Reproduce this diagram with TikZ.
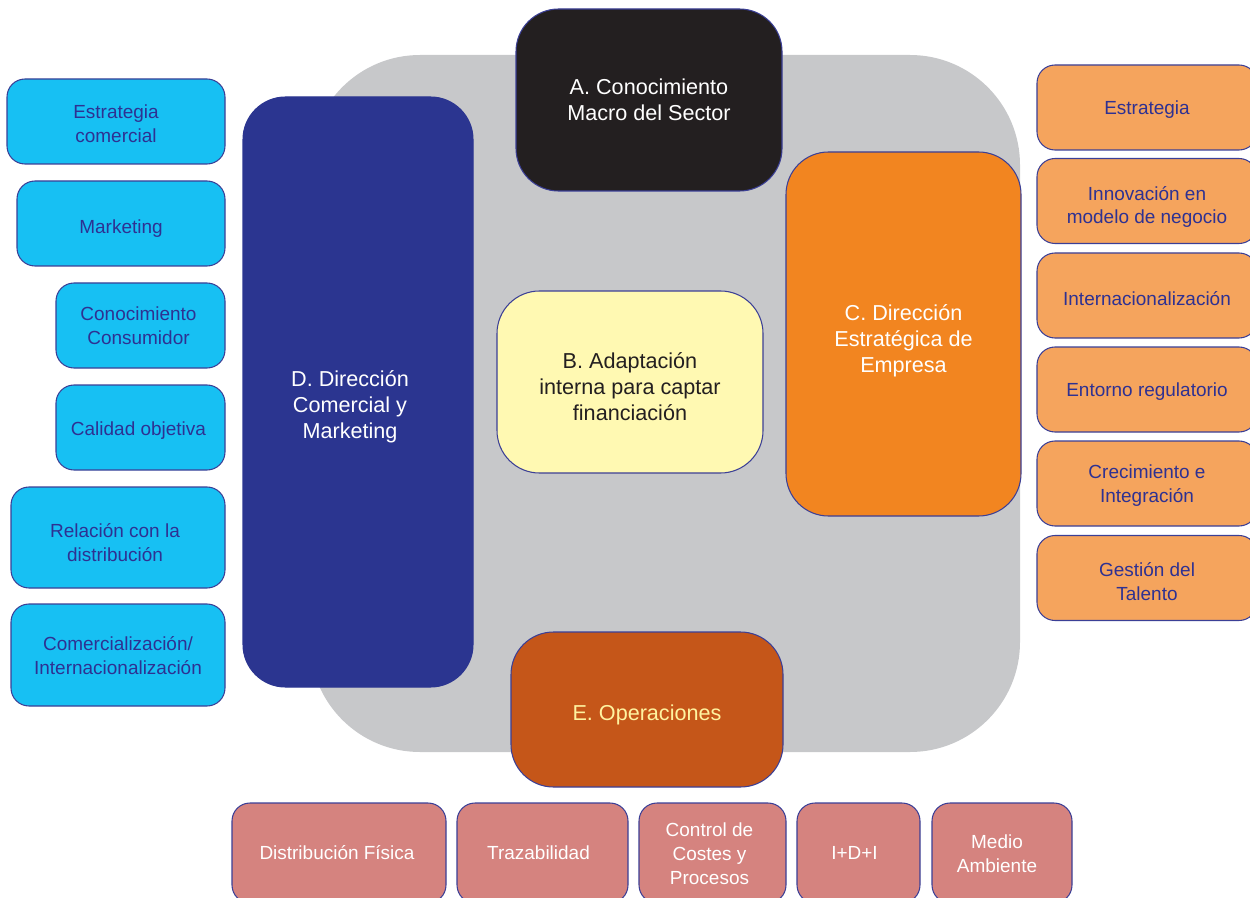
\documentclass[tikz,border=0pt]{standalone}
\usepackage{fontspec}
\setmainfont{Liberation Sans}
\definecolor{coregray}{HTML}{C7C8CA}
\definecolor{edge}{HTML}{3B3F96}
\definecolor{navytext}{HTML}{2E3192}
\definecolor{navyfill}{HTML}{2B3590}
\definecolor{blackfill}{HTML}{231F20}
\definecolor{yellowfill}{HTML}{FFF9B2}
\definecolor{orangefill}{HTML}{F28520}
\definecolor{rustfill}{HTML}{C55619}
\definecolor{rusttext}{HTML}{FFF3A0}
\definecolor{cyanfill}{HTML}{17C0F3}
\definecolor{peachfill}{HTML}{F5A45D}
\definecolor{pinkfill}{HTML}{D5837F}
\begin{document}
\begin{tikzpicture}[x=0.02cm,y=-0.02cm,
  bw/.style={minimum width=#1*0.02cm},
  bh/.style={minimum height=#1*0.02cm},
  dy/.style={yshift=-#1*0.02cm},
  dx/.style={xshift=#1*0.02cm},
  box/.style={draw=edge,line width=0.6pt,inner sep=0pt,outer sep=0pt},
  smalltext/.style={font=\fontsize{10.8pt}{13.6pt}\selectfont,align=center},
  bigtext/.style={font=\fontsize{12.3pt}{14.8pt}\selectfont,align=center},
  sidebox/.style={box,rounded corners=0.36cm},
  leftbox/.style={sidebox,fill=cyanfill},
  rightbox/.style={sidebox,fill=peachfill,bw=220,bh=85},
  lowbox/.style={sidebox,fill=pinkfill,bh=100},
  mainbox/.style={box,rounded corners=0.85cm},
  navylabel/.style={smalltext,text=navytext},
  whitelabel/.style={smalltext,text=white}]
\useasboundingbox (0,0) rectangle (1250,898);

% grey core behind the five main areas
\node[fill=coregray,rounded corners=2.2cm,bw=710,bh=697,inner sep=0pt] (core) at (665,403.5) {};

% main areas
\node[mainbox,fill=blackfill,bw=266,bh=182,
  label={[bigtext,text=white]center:{A. Conocimiento\\Macro del Sector}}] (A) at (649,100) {};
\node[mainbox,draw=navyfill,fill=navyfill,bw=230,bh=590,
  label={[bigtext,text=white,dx=-8,dy=15]center:{D. Dirección\\Comercial y\\Marketing}}] (D) at (358,392) {};
\node[mainbox,fill=yellowfill,bw=266,bh=182,
  label={[bigtext,text=blackfill,dy=5]center:{B. Adaptación\\interna para captar\\financiación}}] (B) at (630,382) {};
\node[mainbox,fill=orangefill,bw=235,bh=364,
  label={[bigtext,text=white,dy=7]center:{C. Dirección\\Estratégica de\\Empresa}}] (C) at (903.5,334) {};
\node[mainbox,fill=rustfill,bw=272,bh=155,
  label={[bigtext,text=rusttext,dy=5]center:{E. Operaciones}}] (E) at (647,709.5) {};

% commercial topics
\node[leftbox,bw=218,bh=85,label={[navylabel,dy=2]center:{Estrategia\\comercial}}] (l1) at (116,121.5) {};
\node[leftbox,bw=208,bh=85,label={[navylabel,dy=5]center:{Marketing}}] (l2) at (121,223.5) {};
\node[leftbox,bw=169,bh=85,label={[navylabel,dx=-2]center:{Conocimiento\\Consumidor}}] (l3) at (140.5,325.5) {};
\node[leftbox,bw=169,bh=85,label={[navylabel,dx=-2,dy=3]center:{Calidad objetiva}}] (l4) at (140.5,427.5) {};
\node[leftbox,bw=214,bh=101,label={[navylabel,dx=-3,dy=5]center:{Relación con la\\distribución}}] (l5) at (118,537.5) {};
\node[leftbox,bw=214,bh=102,label={[navylabel,dy=1]center:{Comercialización/\\Internacionalización}}] (l6) at (118,655) {};

% strategy topics
\node[rightbox,label={[navylabel,dy=2]center:{Estrategia}}] (r1) at (1147,107.5) {};
\node[rightbox,label={[navylabel,dy=6]center:{Innovación en\\modelo de negocio}}] (r2) at (1147,201) {};
\node[rightbox,label={[navylabel,dy=3]center:{Internacionalización}}] (r3) at (1147,295.5) {};
\node[rightbox,label={[navylabel,dy=2]center:{Entorno regulatorio}}] (r4) at (1147,389.5) {};
\node[rightbox,label={[navylabel,dy=2]center:{Crecimiento e\\Integración}}] (r5) at (1147,483.5) {};
\node[rightbox,label={[navylabel,dy=4]center:{Gestión del\\Talento}}] (r6) at (1147,578) {};

% operations topics
\node[lowbox,bw=214,label={[whitelabel,dx=-2]center:{Distribución Física}}] (b1) at (339,853) {};
\node[lowbox,bw=171,label={[whitelabel,dx=-4]center:{Trazabilidad}}] (b2) at (542.5,853) {};
\node[lowbox,bw=147,label={[whitelabel,dx=-3,dy=1]center:{Control de\\Costes y\\Procesos}}] (b3) at (712.5,853) {};
\node[lowbox,bw=123,label={[whitelabel,dx=-4]center:{I+D+I}}] (b4) at (858.5,853) {};
\node[lowbox,bw=140,label={[whitelabel,dx=-5,dy=1]center:{Medio\\Ambiente}}] (b5) at (1002,853) {};
\end{tikzpicture}
\end{document}
